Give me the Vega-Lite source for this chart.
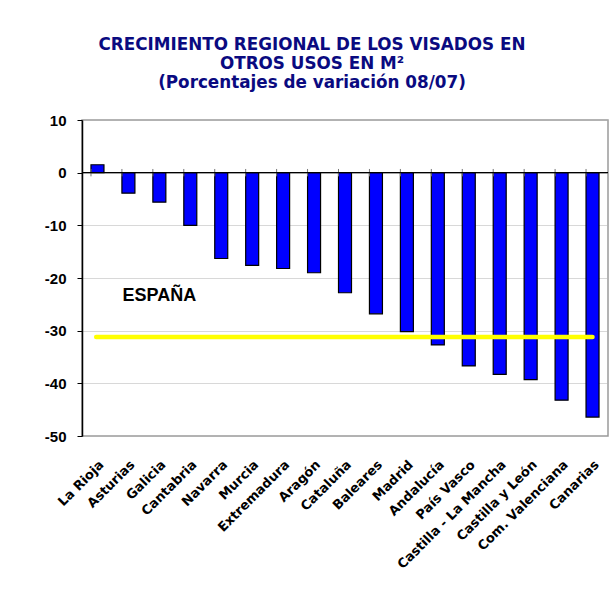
{
  "$schema": "https://vega.github.io/schema/vega-lite/v6.json",
  "width": 526,
  "height": 316,
  "autosize": "none",
  "padding": {"left": 82, "top": 120, "right": 6, "bottom": 154},
  "background": "white",
  "title": {
    "text": ["CRECIMIENTO REGIONAL DE LOS VISADOS EN", "OTROS USOS EN M²", "(Porcentajes de variación 08/07)"],
    "font": "DejaVu Sans",
    "fontSize": 16.8,
    "fontWeight": "bold",
    "color": "#0a0a80",
    "lineHeight": 19,
    "anchor": "middle",
    "frame": "group",
    "dx": -33,
    "offset": 21
  },
  "datasets": {
    "bars": [
      {"region": "La Rioja", "value": 1.5},
      {"region": "Asturias", "value": -3.9},
      {"region": "Galicia", "value": -5.6},
      {"region": "Cantabria", "value": -10.0},
      {"region": "Navarra", "value": -16.3},
      {"region": "Murcia", "value": -17.6},
      {"region": "Extremadura", "value": -18.2},
      {"region": "Aragón", "value": -19.0},
      {"region": "Cataluña", "value": -22.8},
      {"region": "Baleares", "value": -26.8},
      {"region": "Madrid", "value": -30.2},
      {"region": "Andalucía", "value": -32.7},
      {"region": "País Vasco", "value": -36.7},
      {"region": "Castilla - La Mancha", "value": -38.3},
      {"region": "Castilla y León", "value": -39.3},
      {"region": "Com. Valenciana", "value": -43.2},
      {"region": "Canarias", "value": -46.4}
    ],
    "spain": [{"region": "La Rioja", "region2": "Canarias", "value": -31.2}],
    "spainLabel": [{"region": "Galicia", "value": -23.4, "label": "ESPAÑA"}]
  },
  "config": {
    "view": {"stroke": "#9a9a9a", "strokeWidth": 1.5},
    "axis": {"labelColor": "black"}
  },
  "resolve": {"axis": {"x": "independent", "y": "independent"}},
  "layer": [
    {
      "data": {"name": "bars"},
      "mark": {"type": "bar", "color": "#0000ff", "stroke": "black", "strokeWidth": 1.2},
      "encoding": {
        "x": {
          "field": "region", "type": "nominal", "sort": null,
          "scale": {"domain": ["La Rioja", "Asturias", "Galicia", "Cantabria", "Navarra", "Murcia", "Extremadura", "Aragón", "Cataluña", "Baleares", "Madrid", "Andalucía", "País Vasco", "Castilla - La Mancha", "Castilla y León", "Com. Valenciana", "Canarias"], "paddingInner": 0.58, "paddingOuter": 0.29},
          "axis": {
            "title": null, "orient": "bottom", "domain": false, "ticks": false, "grid": false,
            "labelAngle": -45, "labelAlign": "right", "labelBaseline": "top",
            "labelFont": "DejaVu Sans", "labelFontSize": 13, "labelFontWeight": "bold",
            "labelPadding": 22, "labelOverlap": false, "labelLimit": 300
          }
        },
        "y": {
          "field": "value", "type": "quantitative",
          "scale": {"domain": [-50, 10], "nice": false},
          "axis": {
            "title": null, "values": [-50, -40, -30, -20, -10, 0, 10],
            "labelExpr": "(datum.value < 0 ? '-' : '') + abs(datum.value)",
            "domainColor": "black", "domainWidth": 1.5,
            "tickColor": "black", "tickSize": 5, "tickWidth": 1,
            "grid": true, "gridColor": "#b0b0b0", "gridDash": [1, 1], "gridWidth": 1,
            "labelFont": "Liberation Sans", "labelFontSize": 15, "labelFontWeight": "bold",
            "labelPadding": 11
          }
        }
      }
    },
    {
      "data": {"name": "bars"},
      "mark": {"type": "rule", "color": "#777777", "strokeWidth": 1},
      "encoding": {
        "x": {"field": "region", "type": "nominal", "sort": null, "bandPosition": 0, "axis": null},
        "y": {"datum": 0.7, "axis": null},
        "y2": {"datum": -0.7}
      }
    },
    {
      "data": {"values": [{"z": 0}]},
      "mark": {"type": "rule", "color": "black", "strokeWidth": 1.2},
      "encoding": {"y": {"field": "z", "type": "quantitative", "axis": null}}
    },
    {
      "data": {"name": "spain"},
      "mark": {"type": "rule", "color": "#ffff00", "strokeWidth": 4.5, "strokeCap": "round"},
      "encoding": {
        "x": {"field": "region", "type": "nominal", "bandPosition": 0.4, "sort": null, "axis": null},
        "x2": {"field": "region2"},
        "y": {"field": "value", "type": "quantitative", "axis": null}
      }
    },
    {
      "data": {"name": "spainLabel"},
      "mark": {"type": "text", "font": "Liberation Sans", "fontSize": 18, "fontWeight": "bold", "color": "black"},
      "encoding": {
        "x": {"field": "region", "type": "nominal", "sort": null, "axis": null},
        "y": {"field": "value", "type": "quantitative", "axis": null},
        "text": {"field": "label"}
      }
    }
  ]
}
